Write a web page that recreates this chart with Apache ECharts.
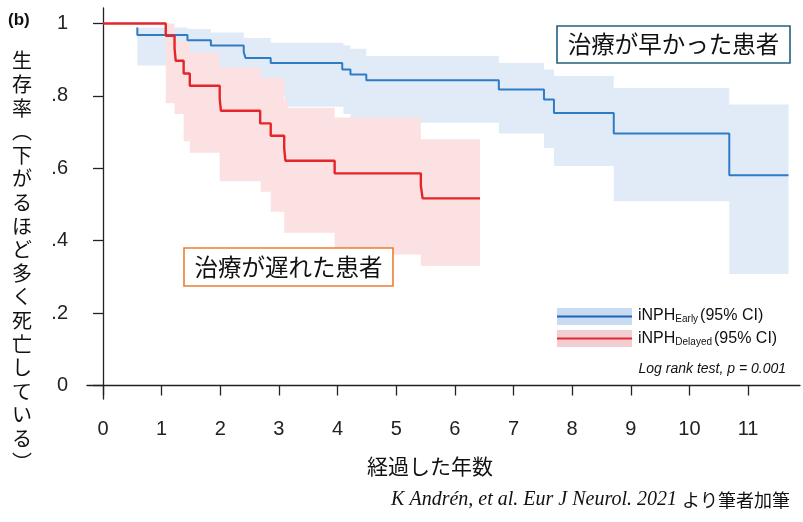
<!DOCTYPE html>
<html>
<head>
<meta charset="utf-8">
<script src="https://cdn.jsdelivr.net/npm/echarts@6/dist/echarts.min.js"></script>
<style>
  html, body { margin: 0; background: #fff; }
  #chart { width: 803px; height: 522px; }
</style>
</head>
<body>
<div id="chart"></div>
<script>
// Kaplan-Meier steps (years, survival)
const earlyT   = [0.585, 0.585, 1.44, 1.84, 2.40, 2.43, 2.86, 4.08, 4.22, 4.49, 6.75, 7.52, 7.69, 8.71, 10.68, 11.69];
const earlyS   = [0.989, 0.968, 0.954, 0.939, 0.921, 0.905, 0.891, 0.873, 0.859, 0.843, 0.818, 0.790, 0.753, 0.696, 0.581, 0.581];
const delayedT = [0, 1.07, 1.22, 1.24, 1.375, 1.48, 1.99, 2.01, 2.68, 2.86, 3.09, 3.11, 3.95, 5.42, 5.45, 6.43];
const delayedS = [1, 0.966, 0.931, 0.897, 0.862, 0.828, 0.793, 0.759, 0.724, 0.690, 0.655, 0.621, 0.586, 0.552, 0.517, 0.517];

// 95% CI bands
const earlyCiT = [0.585, 1.44, 1.84, 2.40, 2.86, 3.10, 4.10, 4.22, 4.49, 6.75, 7.52, 7.69, 8.71, 10.68, 11.69];
const earlyLo  = [0.884, 0.865, 0.845, 0.825, 0.800, 0.770, 0.750, 0.726, 0.726, 0.696, 0.656, 0.606, 0.509, 0.308, 0.308];
const earlyHi  = [0.989, 0.985, 0.975, 0.960, 0.947, 0.947, 0.940, 0.930, 0.910, 0.891, 0.873, 0.855, 0.822, 0.776, 0.776];
const delayedCiT = [1.07, 1.22, 1.375, 1.48, 1.99, 2.69, 2.86, 3.09, 3.15, 3.95, 5.42, 6.43];
const delayedLo  = [0.780, 0.750, 0.675, 0.643, 0.564, 0.535, 0.480, 0.422, 0.422, 0.362, 0.330, 0.330];
const delayedHi  = [1.000, 0.951, 0.951, 0.919, 0.878, 0.850, 0.850, 0.790, 0.767, 0.740, 0.680, 0.680];

const xTicks = [0, 1, 2, 3, 4, 5, 6, 7, 8, 9, 10, 11];
const yTicks = [0, 0.2, 0.4, 0.6, 0.8, 1];

const pairs = (xs, ys) => xs.map((x, i) => [x, ys[i]]);
const SANS = "'Liberation Sans', Arial, sans-serif";
const JP = "'Noto Sans CJK JP', sans-serif";

// step-shaped polygon: upper edge left->right, lower edge right->left
function stepPolygon(xs, lo, hi){
  const top = [], bottom = [];
  for (let i = 0; i < xs.length; i++) {
    top.push([xs[i], hi[i]]);
    bottom.push([xs[i], lo[i]]);
    if (i < xs.length - 1) { top.push([xs[i + 1], hi[i]]); bottom.push([xs[i + 1], lo[i]]); }
  }
  return top.concat(bottom.reverse());
}

function band(name, xs, lo, hi, color){
  const poly = stepPolygon(xs, lo, hi);
  return {
    name, type: 'custom', silent: true, data: [[xs[0], lo[0]]],
    renderItem: (params, api) => ({
      type: 'polygon',
      shape: { points: poly.map(p => api.coord(p)) },
      style: { fill: color }
    })
  };
}

const chart = echarts.init(document.getElementById('chart'), null, { renderer: 'canvas' });
const graphics = [
  { type: 'text', x: 8, y: 20, style: { text: '(b)', font: 'bold 17px ' + SANS, fill: '#111', verticalAlign: 'middle' } },
  { type: 'text', x: 22, y: 49, style: {
      text: '生存率︵下がるほど多く死亡している︶'.split('').join('\n'),
      font: '20px ' + JP, lineHeight: 23.6, fill: '#111', align: 'center', verticalAlign: 'top' } },
  { type: 'text', x: 430, y: 466, style: { text: '経過した年数', font: '21px ' + JP, fill: '#111', align: 'center', verticalAlign: 'middle' } },
  // annotation boxes
  { type: 'rect', shape: { x: 557, y: 26, width: 233, height: 37 }, style: { fill: '#fff', stroke: '#24607e', lineWidth: 1.6 } },
  { type: 'text', x: 673.5, y: 44.5, style: { text: '治療が早かった患者', font: '23.5px ' + JP, fill: '#111', align: 'center', verticalAlign: 'middle' } },
  { type: 'rect', shape: { x: 184, y: 248, width: 209, height: 38 }, style: { fill: '#fff', stroke: '#ed7d31', lineWidth: 1.6 } },
  { type: 'text', x: 288.5, y: 267, style: { text: '治療が遅れた患者', font: '23.5px ' + JP, fill: '#111', align: 'center', verticalAlign: 'middle' } },
  // legend
  { type: 'rect', shape: { x: 557, y: 308, width: 75, height: 17 }, style: { fill: '#c8dbf0' } },
  { type: 'line', shape: { x1: 557, y1: 316.5, x2: 632, y2: 316.5 }, style: { stroke: '#1f63c0', lineWidth: 2 } },
  { type: 'rect', shape: { x: 557, y: 330, width: 75, height: 17 }, style: { fill: '#f2cdd1' } },
  { type: 'line', shape: { x1: 557, y1: 338.5, x2: 632, y2: 338.5 }, style: { stroke: '#e02a30', lineWidth: 2 } },
  { type: 'text', x: 638, y: 308, style: {
      text: '{n|iNPH}{s|Early}{n|(95% CI)}', verticalAlign: 'top', fill: '#111',
      rich: { n: { fontSize: 16, fontFamily: SANS, lineHeight: 16, verticalAlign: 'top' },
              s: { fontSize: 10, fontFamily: SANS, lineHeight: 10, verticalAlign: 'bottom', padding: [10, 2, 0, 0] } } } },
  { type: 'text', x: 638, y: 331, style: {
      text: '{n|iNPH}{s|Delayed}{n|(95% CI)}', verticalAlign: 'top', fill: '#111',
      rich: { n: { fontSize: 16, fontFamily: SANS, lineHeight: 16, verticalAlign: 'top' },
              s: { fontSize: 10, fontFamily: SANS, lineHeight: 10, verticalAlign: 'bottom', padding: [10, 2, 0, 0] } } } },
  { type: 'text', x: 786, y: 369, style: { text: 'Log rank test, p = 0.001', font: 'italic 14px ' + SANS, fill: '#111', align: 'right', verticalAlign: 'middle' } },
  // source
  { type: 'text', x: 790, y: 500, style: {
      text: '{a|K Andrén, et al. Eur J Neurol. 2021 }{b|より筆者加筆}', align: 'right', verticalAlign: 'middle', fill: '#111',
      rich: { a: { fontSize: 20, fontStyle: 'italic', fontFamily: "'Liberation Serif', 'Times New Roman', serif" },
              b: { fontSize: 18, fontFamily: JP } } } }
].map(g => Object.assign({ z: 100 }, g));

chart.setOption({
  animation: false,
  grid: { left: 87, right: 3, top: 8, bottom: 123, containLabel: false, outerBoundsMode: 'none' },
  xAxis: {
    type: 'value', min: -0.273, max: 11.886,
    splitLine: { show: false },
    axisLine: { lineStyle: { color: '#222', width: 1.3 } },
    axisTick: { customValues: xTicks, length: 10, lineStyle: { color: '#222', width: 1.3 } },
    axisLabel: { customValues: xTicks, margin: 20, color: '#222', fontSize: 20, fontFamily: SANS }
  },
  yAxis: {
    type: 'value', min: -0.0373, max: 1.0428,
    splitLine: { show: false },
    axisLine: { show: true, lineStyle: { color: '#222', width: 1.3 } },
    axisTick: { show: true, customValues: yTicks, length: 10, lineStyle: { color: '#222', width: 1.3 } },
    axisLabel: {
      customValues: yTicks, margin: 19, color: '#222', fontSize: 20, fontFamily: SANS,
      formatter: v => (v === 0 || v === 1) ? String(v) : v.toFixed(1).replace(/^0/, '')
    }
  },
  series: [
    band('earlyCI', earlyCiT, earlyLo, earlyHi, '#e1ebf7'),
    band('delayedCI', delayedCiT, delayedLo, delayedHi, '#fbe1e1'),
    { name: 'early', type: 'line', step: 'end', data: pairs(earlyT, earlyS), symbol: 'none',
      lineStyle: { color: '#2e7cc6', width: 2 } },
    { name: 'delayed', type: 'line', step: 'end', data: pairs(delayedT, delayedS), symbol: 'none',
      lineStyle: { color: '#e5252b', width: 2.4 } }
  ],
  graphic: graphics
});
</script>
</body>
</html>
